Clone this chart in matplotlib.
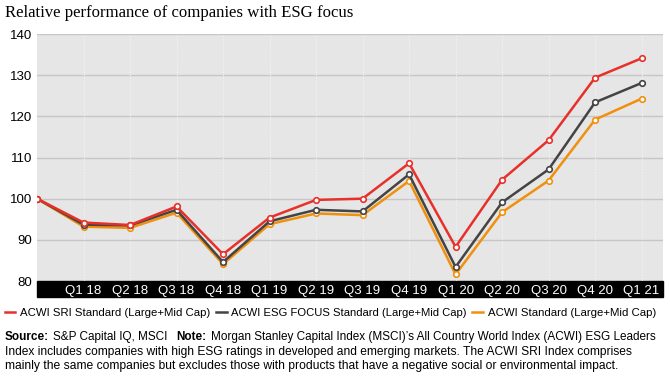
import matplotlib
matplotlib.use("Agg")
import matplotlib.pyplot as plt
from matplotlib.patches import Rectangle
from matplotlib.lines import Line2D

plt.rcParams['font.family'] = ['Liberation Sans', 'DejaVu Sans']

quarters = ["", "Q1 18", "Q2 18", "Q3 18", "Q4 18", "Q1 19", "Q2 19", "Q3 19",
            "Q4 19", "Q1 20", "Q2 20", "Q3 20", "Q4 20", "Q1 21"]
sri = [100, 94.2, 93.6, 98.1, 86.5, 95.4, 99.7, 100.0, 108.6, 88.3, 104.6, 114.2, 129.4, 134.1]
focus = [100, 93.7, 93.5, 97.3, 84.6, 94.5, 97.3, 96.9, 105.9, 83.4, 99.1, 107.1, 123.4, 128.1]
standard = [100, 93.2, 92.9, 96.6, 84.1, 93.8, 96.4, 96.0, 104.3, 81.6, 96.7, 104.4, 119.2, 124.3]

names = ["ACWI SRI Standard (Large+Mid Cap)", "ACWI ESG FOCUS Standard (Large+Mid Cap)",
         "ACWI Standard (Large+Mid Cap)"]
colors = ["#e8302a", "#444444", "#f0900c"]

W, H = 670, 377
fig = plt.figure(figsize=(6.7, 3.77), dpi=100)
ax = fig.add_axes([37 / W, (H - 281) / H, (663 - 37) / W, (281 - 34) / H])
ax.set_facecolor("#e6e6e6")

x = list(range(len(quarters)))
# draw in reverse order so the red line is on top
for vals, c in reversed(list(zip([sri, focus, standard], colors))):
    ax.plot(x, vals, color=c, lw=1.8, marker="o", ms=4, mfc="white", mec=c, mew=1.2, zorder=3)

ax.set_xlim(0, 13.46)
ax.set_ylim(80, 140)
ax.set_yticks(range(80, 141, 10))
ax.set_xticks(x[1:])
ax.set_xticklabels(quarters[1:])
for y in range(90, 141, 10):
    ax.axhline(y, color="#c6c6c6", lw=1, zorder=1)
for xi in x[1:]:
    ax.axvline(xi, color="#f4f4f4", lw=0.8, ls=(0, (1, 1.5)), zorder=1)
for s in ax.spines.values():
    s.set_visible(False)
ax.tick_params(axis="x", length=0, colors="white", labelsize=9.5, pad=3)
ax.tick_params(axis="y", length=0, labelsize=9.5, pad=3.5, labelcolor="black")

# black band under the axis for x labels
ax.add_patch(Rectangle((0, -16 / 247), 1, 16 / 247, transform=ax.transAxes,
                       color="black", clip_on=False, zorder=0))

renderer = fig.canvas.get_renderer()


def fit_text(x0, x1, ybase, s, **kw):
    # put text between x0 and x1 (pixels), shrinking/growing the font to fit
    t = fig.text(x0 / W, 1 - ybase / H, s, va="baseline", fontsize=9, **kw)
    w = t.get_window_extent(renderer).width
    t.set_fontsize(9 * (x1 - x0) / w)
    return t


fit_text(5, 355, 17, "Relative performance of companies with ESG focus",
         family=["Liberation Serif", "DejaVu Serif"])

# legend
leg = [(5, 15, 20, 210), (216, 227, 231, 467), (472, 483, 488, 657)]
for (h0, h1, t0, t1), name, c in zip(leg, names, colors):
    fig.add_artist(Line2D([h0 / W, h1 / W], [1 - 312 / H] * 2, color=c, lw=1.8))
    fit_text(t0, t1, 316, name)

# footnote, first line mixes bold and regular pieces
pieces = [("Source:", "bold", 4), ("S&P Capital IQ, MSCI", "normal", 8), ("Note:", "bold", 4),
          ("Morgan Stanley Capital Index (MSCI)\u2019s All Country World Index (ACWI) ESG Leaders", "normal", 0)]
texts = [fig.text(0, 1 - 340 / H, p, fontweight=fw, fontsize=9, va="baseline") for p, fw, g in pieces]
widths = [t.get_window_extent(renderer).width for t in texts]
gaps = [g for p, fw, g in pieces]
scale = (658 - 5 - sum(gaps)) / sum(widths)
xpos = 5
for t, w, g in zip(texts, widths, gaps):
    t.set_fontsize(9 * scale)
    t.set_x(xpos / W)
    xpos += w * scale + g

fit_text(5, 634, 354.5,
         "Index includes companies with high ESG ratings in developed and emerging markets. The ACWI SRI Index comprises")
fit_text(5, 620, 368.5,
         "mainly the same companies but excludes those with products that have a negative social or environmental impact.")

fig.savefig("out.png", dpi=100)
